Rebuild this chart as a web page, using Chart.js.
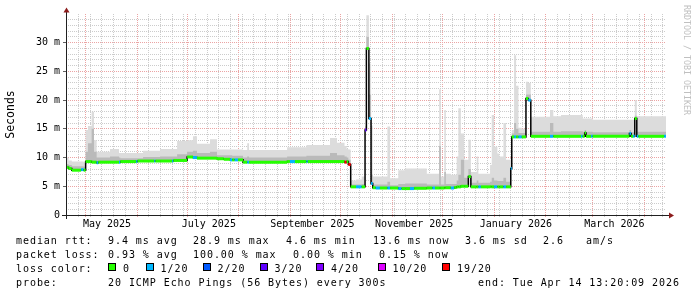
<!DOCTYPE html>
<html lang="en">
<head>
<meta charset="UTF-8">
<title>Smokeping median rtt</title>
<script src="https://cdn.jsdelivr.net/npm/chart.js@4"></script>
<style>
  body { margin: 0; background: #fff; }
  .wrap { position: relative; width: 697px; height: 297px; font-family: "DejaVu Sans Mono", monospace; }
  canvas { position: absolute; left: 0; top: 0; }
  .t { position: absolute; font-size: 10px; line-height: 10px; letter-spacing: 0.94px; white-space: pre; color: #000; }
  .sq { position: absolute; top: 263px; width: 6px; height: 6px; border: 1px solid #000; }
  .mark { position: absolute; left: 682px; top: 5px; font-size: 8.3px; color: #c0c0c0; writing-mode: vertical-rl; white-space: pre; }
</style>
</head>
<body>
<div class="wrap">
  <canvas id="grafico" width="697" height="297"></canvas>
  <div class="mark">RRDTOOL / TOBI OETIKER</div>

  <div class="t" style="left:16px;top:236px">median rtt:</div>
  <div class="t" style="left:108px;top:236px">9.4 ms avg</div>
  <div class="t" style="left:193px;top:236px">28.9 ms max</div>
  <div class="t" style="left:286px;top:236px">4.6 ms min</div>
  <div class="t" style="left:373px;top:236px">13.6 ms now</div>
  <div class="t" style="left:465px;top:236px">3.6 ms sd</div>
  <div class="t" style="left:543px;top:236px">2.6</div>
  <div class="t" style="left:586px;top:236px">am/s</div>

  <div class="t" style="left:16px;top:250px">packet loss:</div>
  <div class="t" style="left:108px;top:250px">0.93 % avg</div>
  <div class="t" style="left:193px;top:250px">100.00 % max</div>
  <div class="t" style="left:293px;top:250px">0.00 % min</div>
  <div class="t" style="left:379px;top:250px">0.15 % now</div>

  <div class="t" style="left:16px;top:263.5px">loss color:</div>
  <div id="lossLegend"></div>

  <div class="t" style="left:16px;top:278px">probe:</div>
  <div class="t" style="left:108px;top:278px">20 ICMP Echo Pings (56 Bytes) every 300s</div>
  <div class="t" style="left:478px;top:278px">end: Tue Apr 14 13:20:09 2026</div>
</div>

<script>
  // x values are days counted from 2025-01-01 (day 0)
  const days = [108.44, 110.0, 111.9, 117.5, 119.0, 120.2, 121.6, 123.8, 125.2, 126.8,
    127.8, 134.8, 140.2, 141.0, 150.5, 151.3, 154.6, 161.3, 162.0, 164.8,
    172.0, 172.8, 175.0, 181.0, 184.5, 186.9, 194.7, 198.9, 203.0, 206.7,
    208.0, 209.5, 211.5, 214.5, 217.0, 218.1, 240.9, 242.6, 245.6, 252.5,
    253.3, 266.6, 270.8, 274.4, 275.3, 276.6, 277.6, 279.0, 282.2, 285.6,
    287.6, 288.4, 289.9, 291.2, 292.2, 294.0, 296.5, 301.0, 302.6, 307.5,
    309.5, 311.6, 314.5, 317.0, 324.6, 328.0, 329.5, 332.0, 333.0, 335.1,
    336.0, 339.0, 341.0, 342.5, 343.5, 345.0, 347.0, 349.5, 351.0, 354.5,
    355.5, 357.0, 362.5, 363.5, 364.9, 366.9, 368.1, 370.5, 372.1, 374.9,
    375.5, 376.9, 378.1, 379.5, 381.5, 384.0, 385.4, 386.9, 398.4, 400.4,
    405.0, 417.0, 418.0, 419.2, 420.0, 423.0, 424.0, 446.0, 447.0, 448.2,
    449.2, 450.4, 451.4, 466.8, 467.9];

  // median rtt (ms)
  const medianMs = [8.3, 8.1, 7.8, 7.9, 7.8, 9.3, 9.3, 9.2, 9.2, 9.1,
    9.2, 9.2, 9.2, 9.3, 9.3, 9.4, 9.4, 9.4, 9.4, 9.4,
    9.4, 9.5, 9.5, 10.1, 10.0, 9.9, 9.9, 9.8, 9.7, 9.6,
    9.6, 9.6, 9.6, 9.2, 9.2, 9.2, 9.3, 9.3, 9.3, 9.3,
    9.3, 9.3, 9.3, 9.3, 9.2, 9.3, 8.8, 4.9, 4.9, 4.9,
    14.8, 29.0, 16.8, 5.5, 4.75, 4.7, 4.7, 4.7, 4.7, 4.6,
    4.6, 4.6, 4.6, 4.65, 4.7, 4.7, 4.7, 4.7, 4.7, 4.75,
    4.75, 4.7, 4.8, 4.9, 4.9, 5.0, 5.0, 6.7, 4.9, 4.9,
    4.9, 4.9, 4.9, 4.9, 4.9, 4.9, 4.9, 4.9, 4.9, 8.1,
    13.6, 13.6, 13.6, 13.6, 13.6, 20.3, 20.0, 13.7, 13.7, 13.7,
    13.7, 13.7, 13.7, 14.3, 13.7, 13.7, 13.7, 14.2, 13.7, 13.7,
    16.8, 13.7, 13.7, 13.7, 13.7];

  // lost pings out of 20
  const lossCount = [0, 0, 0, 1, 0, 0, 0, 0, 0, 1,
    0, 0, 1, 0, 1, 0, 0, 1, 0, 0,
    1, 0, 0, 0, 1, 0, 0, 0, 0, 1,
    0, 1, 0, 0, 1, 0, 0, 1, 0, 1,
    0, 0, 0, 0, 19, 0, 19, 0, 1, 0,
    3, 0, 1, 1, 0, 1, 0, 1, 0, 1,
    0, 0, 1, 0, 0, 1, 0, 0, 0, 0,
    0, 1, 0, 0, 0, 0, 0, 0, 0, 0,
    1, 0, 0, 0, 1, 0, 0, 1, 0, 1,
    0, 1, 0, 1, 0, 0, 1, 0, 1, 0,
    0, 1, 0, 0, 0, 1, 0, 1, 0, 1,
    0, 1, 0, 1, 1];

  // smoke: slowest ping and upper edge of the dense part (ms)
  const smokeMaxMs = [10.0, 9.5, 9.3, 9.3, 9.2, 14.8, 15.5, 18.0, 13.0, 11.0,
    11.0, 11.5, 10.8, 10.8, 10.8, 10.8, 11.2, 11.2, 11.2, 11.5,
    11.5, 11.5, 12.9, 13.0, 13.7, 12.4, 13.2, 11.4, 11.4, 11.4,
    11.4, 11.4, 11.4, 11.3, 12.5, 11.3, 11.8, 11.8, 11.8, 12.2,
    12.2, 13.4, 12.6, 12.6, 12.0, 11.5, 11.4, 6.0, 6.2, 6.7,
    15.5, 34.8, 26.4, 15.6, 6.7, 6.7, 6.7, 15.4, 6.4, 7.8,
    7.8, 8.1, 8.1, 8.1, 7.2, 7.2, 7.2, 21.9, 6.7, 18.3,
    7.2, 7.0, 7.0, 10.2, 18.6, 14.2, 9.6, 13.1, 7.5, 10.2,
    7.2, 7.2, 8.7, 17.4, 11.9, 10.7, 10.2, 16.0, 9.6, 9.6,
    14.8, 27.8, 22.5, 15.2, 15.0, 23.2, 23.0, 17.1, 18.3, 17.2,
    17.4, 17.4, 16.8, 16.8, 16.8, 16.8, 16.6, 16.6, 16.6, 16.6,
    20.0, 17.2, 17.2, 17.2, 17.2];

  const smokeMidMs = [8.9, 8.7, 8.5, 8.5, 8.4, 11.0, 12.5, 15.0, 11.0, 10.0,
    10.0, 10.2, 10.0, 9.9, 9.9, 9.9, 10.1, 10.1, 10.1, 10.2,
    10.2, 10.2, 10.6, 11.0, 11.2, 10.8, 11.0, 10.4, 10.4, 10.4,
    10.3, 10.3, 10.3, 10.0, 10.2, 10.0, 10.2, 10.2, 10.2, 10.3,
    10.3, 10.8, 10.4, 10.4, 10.2, 10.0, 9.6, 5.3, 5.3, 5.4,
    15.0, 31.0, 21.0, 7.0, 5.3, 5.3, 5.3, 5.8, 5.2, 5.4,
    5.4, 5.5, 5.5, 5.5, 5.3, 5.3, 5.3, 12.0, 5.3, 7.5,
    5.4, 5.4, 5.4, 6.0, 7.0, 9.6, 6.5, 8.0, 5.6, 6.0,
    5.6, 5.6, 5.8, 6.5, 6.0, 5.9, 5.9, 6.5, 5.8, 8.5,
    14.2, 16.0, 15.0, 14.3, 14.3, 21.0, 21.0, 14.5, 16.0, 14.5,
    14.6, 14.6, 14.5, 14.8, 14.5, 14.5, 14.4, 14.8, 14.4, 14.4,
    17.3, 14.5, 14.5, 14.5, 14.5];

  const lossSteps = [0, 1, 2, 3, 4, 10, 19];
  const lossLabels = ['0', '1/20', '2/20', '3/20', '4/20', '10/20', '19/20'];
  const lossColors = ['#26ff00', '#00b8ff', '#0059ff', '#5e00ff', '#7e00ff', '#dd00ff', '#ff0000'];

  const monthStarts = [120, 151, 181, 212, 243, 273, 304, 334, 365, 396, 424, 455];
  const labelMonths = [120, 181, 243, 304, 365, 424];
  const labelTexts = ['May 2025', 'July 2025', 'September 2025', 'November 2025', 'January 2026', 'March 2026'];

  const inicio = 108.44;
  const fim = 467.9;

  function corPerda(n) {
    let c = lossColors[0];
    lossSteps.forEach((s, i) => { if (n >= s) c = lossColors[i]; });
    return c;
  }

  // legenda das cores de perda
  const quadX = [108, 145.5, 202.5, 259.5, 316, 377.5, 442];
  const legenda = document.getElementById('lossLegend');
  lossLabels.forEach((txt, i) => {
    const q = document.createElement('div');
    q.className = 'sq';
    q.style.left = quadX[i] + 'px';
    q.style.background = lossColors[i];
    legenda.appendChild(q);
    const t = document.createElement('div');
    t.className = 't';
    t.style.left = (quadX[i] + 15) + 'px';
    t.style.top = '263.5px';
    t.textContent = txt;
    legenda.appendChild(t);
  });

  // pontos da linha colorida: só os trechos horizontais
  const medianaCor = [];
  for (let i = 0; i < days.length - 1; i++) {
    medianaCor.push({ x: days[i], y: medianMs[i] });
    medianaCor.push({ x: days[i + 1], y: medianMs[i] });
  }
  const mediana = days.map((d, i) => ({ x: d, y: medianMs[i] }));
  const fumacaMax = days.map((d, i) => ({ x: d, y: smokeMaxMs[i] }));
  const fumacaMid = days.map((d, i) => ({ x: d, y: smokeMidMs[i] }));

  // domingos para a grade semanal
  const gradeX = [];
  for (let d = 109; d <= fim; d += 7) gradeX.push(d);
  monthStarts.forEach(m => { if (!gradeX.includes(m)) gradeX.push(m); });
  gradeX.sort((a, b) => a - b);

  const fonte = { family: 'DejaVu Sans Mono', size: 10 };
  const corMaior = '#eba4a4';
  const corMenor = '#cccccc';

  const setas = {
    id: 'setas',
    afterDraw(chart) {
      const { ctx, chartArea: a } = chart;
      ctx.save();
      ctx.strokeStyle = '#202020';
      ctx.lineWidth = 1;
      ctx.beginPath();
      ctx.moveTo(a.left + 0.5, 10);
      ctx.lineTo(a.left + 0.5, a.bottom + 4);
      ctx.moveTo(a.left - 4, a.bottom + 0.5);
      ctx.lineTo(a.right + 4, a.bottom + 0.5);
      ctx.stroke();
      ctx.fillStyle = '#8c1c1c';
      ctx.beginPath();
      ctx.moveTo(a.left + 0.5, 7.5);
      ctx.lineTo(a.left + 3.5, 12.5);
      ctx.lineTo(a.left - 2.5, 12.5);
      ctx.closePath();
      ctx.fill();
      ctx.beginPath();
      ctx.moveTo(a.right + 8, a.bottom + 0.5);
      ctx.lineTo(a.right + 3, a.bottom - 2.5);
      ctx.lineTo(a.right + 3, a.bottom + 3.5);
      ctx.closePath();
      ctx.fill();
      ctx.restore();
    }
  };

  new Chart(document.getElementById('grafico'), {
    type: 'line',
    data: {
      datasets: [{
        data: medianaCor,
        borderWidth: 3,
        borderCapStyle: 'butt',
        pointRadius: 0,
        fill: false,
        order: 0,
        segment: {
          borderColor: c => c.p0DataIndex % 2 === 0 ? corPerda(lossCount[c.p0DataIndex / 2]) : 'rgba(0,0,0,0)'
        }
      }, {
        data: mediana,
        stepped: 'before',
        borderColor: '#000',
        borderWidth: 1.5,
        pointRadius: 0,
        fill: false,
        order: 1
      }, {
        data: fumacaMid,
        stepped: 'before',
        borderWidth: 0,
        borderColor: 'rgba(0,0,0,0)',
        backgroundColor: '#bababa',
        pointRadius: 0,
        fill: 1,
        order: 2
      }, {
        data: fumacaMax,
        stepped: 'before',
        borderWidth: 0,
        borderColor: 'rgba(0,0,0,0)',
        backgroundColor: '#dcdcdc',
        pointRadius: 0,
        fill: 1,
        order: 3
      }]
    },
    options: {
      responsive: false,
      animation: false,
      layout: { padding: { left: 0, right: 31, top: 14, bottom: 65 } },
      plugins: { legend: { display: false }, tooltip: { enabled: false } },
      scales: {
        x: {
          type: 'linear',
          min: inicio,
          max: fim,
          weight: 0,
          afterBuildTicks: s => { s.ticks = gradeX.map(v => ({ value: v })); },
          afterFit: s => { s.height = 3; },
          ticks: { display: false },
          grid: {
            color: c => monthStarts.includes(c.tick.value) ? corMaior : corMenor,
            tickLength: 2
          },
          border: { display: false, dash: [1, 1] }
        },
        x2: {
          type: 'linear',
          position: 'bottom',
          min: inicio,
          max: fim,
          weight: 1,
          afterBuildTicks: s => { s.ticks = labelMonths.map(v => ({ value: v + 13 })); },
          afterFit: s => { s.height = 14; },
          grid: { display: false, drawTicks: false },
          border: { display: false },
          ticks: {
            autoSkip: false,
            maxRotation: 0,
            padding: 0,
            color: '#000',
            font: fonte,
            callback: (v, i) => labelTexts[i]
          }
        },
        y: {
          min: 0,
          max: 35,
          afterBuildTicks: s => {
            const t = [];
            for (let v = 0; v < 35; v++) t.push({ value: v });
            s.ticks = t;
          },
          afterFit: s => { s.width = 66; },
          ticks: {
            autoSkip: false,
            padding: 3,
            color: '#000',
            font: fonte,
            callback: v => v % 5 === 0 ? (v === 0 ? '0' : v + ' m') : ''
          },
          grid: {
            color: c => c.tick.value % 5 === 0 ? corMaior : corMenor,
            tickColor: c => c.tick.value % 5 === 0 ? '#606060' : 'rgba(0,0,0,0)',
            tickLength: 3
          },
          border: { display: false, dash: [1, 1] },
          title: {
            display: true,
            text: 'Seconds',
            color: '#000',
            font: { family: 'DejaVu Sans Mono', size: 11.5 },
            padding: { top: 4, bottom: 0 }
          }
        }
      }
    },
    plugins: [setas]
  });
</script>
</body>
</html>
